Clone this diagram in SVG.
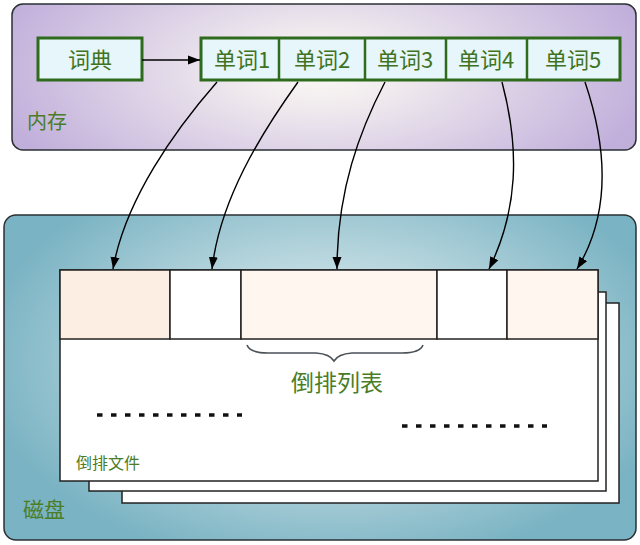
<svg xmlns="http://www.w3.org/2000/svg" width="640" height="545" viewBox="0 0 640 545">
<defs>
<radialGradient id="gMem" cx="320" cy="70" r="340" gradientUnits="userSpaceOnUse" gradientTransform="translate(320 70) scale(1 0.45) translate(-320 -70)">
<stop offset="0" stop-color="#fcfaf5"/>
<stop offset="0.25" stop-color="#f0eaee"/>
<stop offset="1" stop-color="#c0aedb"/>
</radialGradient>
<radialGradient id="gDisk" cx="330" cy="360" r="350" gradientUnits="userSpaceOnUse" gradientTransform="translate(330 360) scale(1 0.6) translate(-330 -360)">
<stop offset="0" stop-color="#e4eff2"/>
<stop offset="0.3" stop-color="#cfe3e8"/>
<stop offset="1" stop-color="#7ab3c3"/>
</radialGradient>
<marker id="ah" viewBox="0 0 12 10" refX="12" refY="5" markerWidth="12" markerHeight="10" markerUnits="userSpaceOnUse" orient="auto">
<path d="M0,0.5 L12,5 L0,9.5 z" fill="#000"/>
</marker>
<style>
.container{stroke:#2a3034;stroke-width:1.5}
.gbox{fill:#e6f6fa;stroke:#2f6b1c;stroke-width:3}
.gline{stroke:#2f6b1c;stroke-width:2.5;fill:none}
.wtxt{font-family:"Noto Sans CJK SC","Noto Sans",sans-serif;font-size:22px;fill:#3f7322;text-anchor:middle}
.lbl{font-family:"Noto Sans CJK SC","Noto Sans",sans-serif;fill:#4a7d26}
.page{fill:#fff;stroke:#222;stroke-width:1.5}
.cell{stroke:#222;stroke-width:1.5}
.conn{fill:none;stroke:#000;stroke-width:1.4;marker-end:url(#ah)}
.dots{stroke:#111;stroke-width:3.5;stroke-dasharray:5.5 8.5}
</style>
</defs>

<g id="memory">
<rect class="container" x="12" y="4" width="624" height="146" rx="11" fill="url(#gMem)"/>
<text class="lbl" x="27" y="129" font-size="20">内存</text>
</g>

<g id="disk">
<rect class="container" x="4" y="215" width="632" height="325" rx="12" fill="url(#gDisk)"/>
<text class="lbl" x="23" y="517" font-size="21">磁盘</text>
</g>

<g id="dictionary">
<rect class="gbox" x="38" y="38" width="104" height="42"/>
<text class="wtxt" x="90" y="68">词典</text>
</g>

<g id="words">
<rect class="gbox" x="201" y="38" width="419" height="42"/>
<line class="gline" x1="279" y1="38" x2="279" y2="80"/>
<line class="gline" x1="365" y1="38" x2="365" y2="80"/>
<line class="gline" x1="446" y1="38" x2="446" y2="80"/>
<line class="gline" x1="527" y1="38" x2="527" y2="80"/>
<text class="wtxt" x="242" y="68">单词1</text>
<text class="wtxt" x="322" y="68">单词2</text>
<text class="wtxt" x="405" y="68">单词3</text>
<text class="wtxt" x="486" y="68">单词4</text>
<text class="wtxt" x="573" y="68">单词5</text>
</g>

<g id="inverted-file">
<rect class="page" x="122" y="303" width="497" height="200"/>
<rect class="page" x="89" y="292" width="517" height="199"/>
<rect class="page" x="60" y="270" width="538" height="211" fill="#f0f6fd"/>
<rect class="cell" x="60" y="270" width="110" height="69" fill="#fdeee4"/>
<rect class="cell" x="170" y="270" width="71" height="69" fill="#ffffff"/>
<rect class="cell" x="241" y="270" width="196" height="69" fill="#fff6f0"/>
<rect class="cell" x="437" y="270" width="70" height="69" fill="#ffffff"/>
<rect class="cell" x="507" y="270" width="91" height="69" fill="#fff7ef"/>
<path d="M247,345 Q250,353 268,353 L316,353 Q330,354 334,361 Q338,354 352,353 L402,353 Q420,353 423,345" fill="none" stroke="#4a5258" stroke-width="1.6"/>
<text class="lbl" x="337" y="391" font-size="23" text-anchor="middle">倒排列表</text>
<line class="dots" x1="97" y1="415" x2="242" y2="415"/>
<line class="dots" x1="402" y1="426" x2="547" y2="426"/>
<text class="lbl" x="76" y="469" font-size="16">倒排文件</text>
</g>

<g id="connectors">
<line x1="142" y1="60" x2="200" y2="60" stroke="#000" stroke-width="1.6" marker-end="url(#ah)"/>
<path class="conn" d="M217,82 C175,130 125,200 113,269"/>
<path class="conn" d="M298,82 C260,135 220,200 212,269"/>
<path class="conn" d="M385,82 C360,130 337,190 337,269"/>
<path class="conn" d="M502,82 C520,150 518,210 489,269"/>
<path class="conn" d="M585,82 C608,150 610,215 577,269"/>
</g>
</svg>
